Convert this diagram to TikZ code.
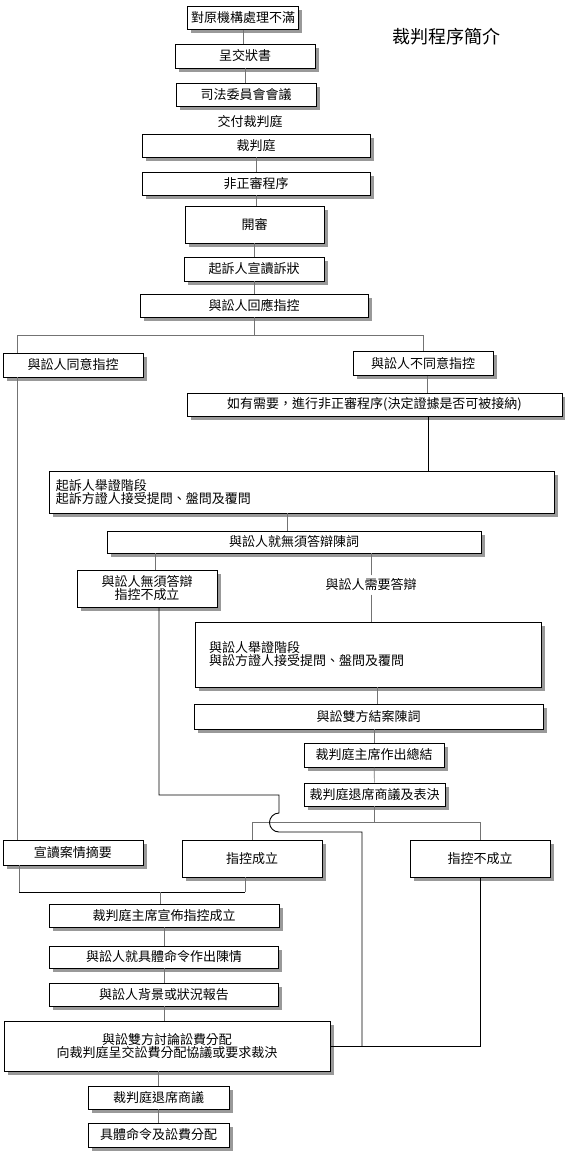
\documentclass[tikz,border=0pt]{standalone}
\usepackage{fontspec}
\newfontfamily\cjk{Noto Sans CJK TC}
\usepackage{tikz}
\usetikzlibrary{shadows}

\tikzset{
  box/.style={draw, line width=0.7pt, fill=white, inner sep=0pt,
    font=\cjk\fontsize{13}{13}\selectfont,
    drop shadow={shadow xshift=3.5pt, shadow yshift=-3.5pt, fill=black!40, opacity=1}},
  note/.style={font=\cjk\fontsize{13}{13}\selectfont},
  link/.style={draw=black!55, line width=0.6pt},
  route/.style={draw=black, line width=0.9pt},
}

\begin{document}
\begin{tikzpicture}[x=1pt,y=-1pt]
      \useasboundingbox (0,0) rectangle (565,1163);
      \node[note, font=\cjk\fontsize{18}{18}\selectfont] (title) at (446,37) {裁判程序簡介};

      \node[box, minimum width=111pt, minimum height=23pt] (orig) at (243,18) {對原機構處理不滿};
      \node[box, minimum width=140pt, minimum height=24pt] (submit) at (245,56) {呈交狀書};
      \node[box, minimum width=140pt, minimum height=23pt] (committee) at (246,94.5) {司法委員會會議};
      \node[note] (handover) at (250,122) {交付裁判庭};
      \node[box, minimum width=228pt, minimum height=23pt] (tribunal) at (256,145.5) {裁判庭};
      \node[box, minimum width=228pt, minimum height=23pt] (pretrial) at (256,183.5) {非正審程序};
      \node[box, minimum width=139pt, minimum height=37pt] (open) at (254.5,224.5) {開審};
      \node[box, minimum width=140pt, minimum height=24pt] (read) at (254,269) {起訴人宣讀訴狀};
      \node[box, minimum width=228pt, minimum height=23pt] (respond) at (254,305.5) {與訟人回應指控};
      \node[box, minimum width=140pt, minimum height=24pt] (agree) at (73,365) {與訟人同意指控};
      \node[box, minimum width=140pt, minimum height=24pt] (disagree) at (423,363.5) {與訟人不同意指控};
      \node[box, minimum width=375pt, minimum height=23pt] (voirdire) at (374.5,404.5) {如有需要，進行非正審程序(決定證據是否可被接納)};
      \node[box, minimum width=505pt, minimum height=42pt, text width=491pt, align=left] (proscase) at (301.5,492) {起訴人舉證階段\\起訴方證人接受提問、盤問及覆問};
      \node[box, minimum width=374pt, minimum height=22pt] (nocase) at (294,542) {與訟人就無須答辯陳詞};
      \node[box, minimum width=140pt, minimum height=37pt, align=center] (nocasebox) at (147,588.5) {與訟人無須答辯\\指控不成立};
      \node[note] (defence) at (371,585) {與訟人需要答辯};
      \node[box, minimum width=346pt, minimum height=65pt, text width=318pt, align=left] (defcase) at (368,654.5) {與訟人舉證階段\\與訟方證人接受提問、盤問及覆問};
      \node[box, minimum width=349pt, minimum height=25pt] (closing) at (368.5,716.5) {與訟雙方結案陳詞};
      \node[box, minimum width=140pt, minimum height=24pt] (summing) at (374,755) {裁判庭主席作出總結};
      \node[box, minimum width=141pt, minimum height=23pt] (retire) at (374.5,794.5) {裁判庭退席商議及表決};
      \node[box, minimum width=140pt, minimum height=25pt] (summary) at (73,852.5) {宣讀案情摘要};
      \node[box, minimum width=140pt, minimum height=37pt] (guilty) at (252,858.5) {指控成立};
      \node[box, minimum width=140pt, minimum height=37pt] (notguilty) at (480,858.5) {指控不成立};
      \node[box, minimum width=230pt, minimum height=23pt] (announce) at (164,915.5) {裁判庭主席宣佈指控成立};
      \node[box, minimum width=229pt, minimum height=22pt] (mitigate) at (164,957) {與訟人就具體命令作出陳情};
      \node[box, minimum width=229pt, minimum height=23pt] (report) at (164,994.5) {與訟人背景或狀況報告};
      \node[box, minimum width=326pt, minimum height=50pt, align=center] (costs) at (167,1046) {與訟雙方討論訟費分配\\向裁判庭呈交訟費分配協議或要求裁決};
      \node[box, minimum width=141pt, minimum height=23pt] (deliberate) at (158.5,1097.5) {裁判庭退席商議};
      \node[box, minimum width=141pt, minimum height=24pt] (order) at (158.5,1135) {具體命令及訟費分配};

      \coordinate (jump) at (279,813);
      \coordinate (merge) at (362,1046);
      \coordinate (gather) at (160,892);

      \draw[link] (orig.south) -- (orig.south |- submit.north);
      \draw[link] (submit.south) -- (submit.south |- committee.north);
      \draw[link] (tribunal) -- (pretrial);
      \draw[link] (pretrial.south) -- (pretrial.south |- open.north);
      \draw[link] (open.south) -- (open.south |- read.north);
      \draw[link] (read.south) -- (read.south |- respond.north);
      \draw[link] (respond.south) -- ++(0,19);
      \draw[link] ([xshift=-56pt]agree.north) -- ++(0,-17) -| (disagree.north);
      \draw[link] ([xshift=-56pt]agree.south) -- ([xshift=-56pt]summary.north);
      \draw[link] ([xshift=4pt]disagree.south) -- ([xshift=4pt]disagree.south |- voirdire.north);
      \draw[route] ([xshift=54pt]voirdire.south) -- ([xshift=54pt]voirdire.south |- proscase.north);
      \draw[link] ([xshift=-7pt]nocase.north) -- ([xshift=-7pt]nocase.north |- proscase.south);
      \draw[link] ([xshift=8pt]nocasebox.north) -- ([xshift=8pt]nocasebox.north |- nocase.south);
      \draw[link] (defence.north) -- (defence.north |- nocase.south);
      \draw[link] (defence.south) -- (defence.south |- defcase.north);
      \draw[link] ([xshift=9pt]defcase.south) -- ([xshift=9pt]defcase.south |- closing.north);
      \draw[link] (summing.north |- closing.south) -- (summing.north);
      \draw[link] (summing) -- (retire);
      \draw[link] (retire.south) -- ++(0,17);
      \draw[link] (guilty.north) -- ++(0,-17) -| (notguilty.north);

      \draw[route] ([xshift=12pt]nocasebox.south) |- ([yshift=18pt]jump) -- (jump)
        arc[start angle=90, end angle=270, radius=9.5pt] -| (merge);
      \draw[route] (notguilty.south) |- (costs.east);

      \draw[link] ([xshift=-54pt]summary.south) -- ([xshift=-54pt]summary.south |- gather);
      \draw[link] ([xshift=-7pt]guilty.south) -- ([xshift=-7pt]guilty.south |- gather);
      \draw[route] ([xshift=-54pt]summary.south |- gather) -- ([xshift=-7pt]guilty.south |- gather);
      \draw[link] (gather) -- (gather |- announce.north);
      \draw[link] (announce) -- (mitigate);
      \draw[link] (mitigate) -- (report);
      \draw[link] (report.south) -- (report.south |- costs.north);
      \draw[link] (deliberate.north |- costs.south) -- (deliberate.north);
      \draw[link] (deliberate) -- (order);
    \end{tikzpicture}
\end{document}
